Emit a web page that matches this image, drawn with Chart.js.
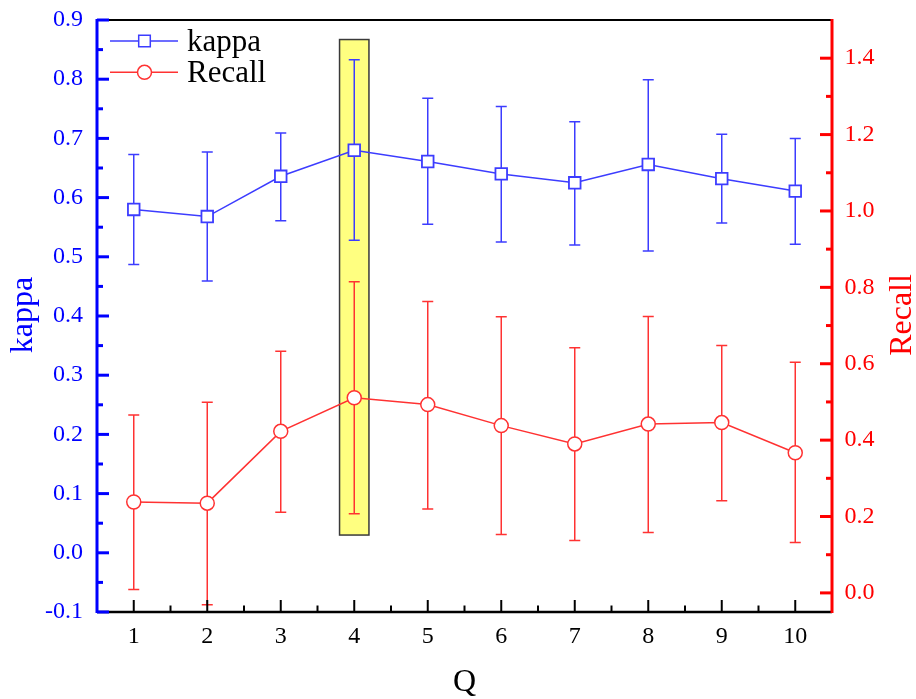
<!DOCTYPE html>
<html>
<head>
<meta charset="utf-8">
<script src="https://cdn.jsdelivr.net/npm/chart.js@4/dist/chart.umd.min.js"></script>
<style>
html, body { margin: 0; padding: 0; background: #fff; }
canvas { display: block; }
</style>
</head>
<body>
<canvas id="chart-kappa-recall" width="916" height="699"></canvas>
<script>
var qLabels = ['1', '2', '3', '4', '5', '6', '7', '8', '9', '10'];

var kappaMean  = [0.580, 0.568, 0.636, 0.680, 0.661, 0.640, 0.625, 0.656, 0.632, 0.611];
var kappaUpper = [0.673, 0.677, 0.709, 0.833, 0.768, 0.754, 0.728, 0.799, 0.707, 0.700];
var kappaLower = [0.487, 0.459, 0.561, 0.528, 0.555, 0.525, 0.520, 0.510, 0.557, 0.521];

var recallMean  = [0.238, 0.235, 0.423, 0.511, 0.493, 0.438, 0.390, 0.442, 0.446, 0.367];
var recallUpper = [0.466, 0.499, 0.633, 0.815, 0.763, 0.723, 0.642, 0.724, 0.648, 0.604];
var recallLower = [0.009, -0.031, 0.211, 0.207, 0.220, 0.153, 0.137, 0.158, 0.241, 0.132];

var kappaTicks  = [-0.1, 0.0, 0.1, 0.2, 0.3, 0.4, 0.5, 0.6, 0.7, 0.8, 0.9];
var recallTicks = [0.0, 0.2, 0.4, 0.6, 0.8, 1.0, 1.2, 1.4];

// highlighted Q column (yellow box), given in kappa units
var highlightQ = '4';
var highlightKappa = [0.03, 0.867];

var BLUE = '#0000ff', RED = '#ff0000';
var LINE_BLUE = '#3c3cff', LINE_RED = '#ff3232';
var FONT = '"Liberation Serif", "Times New Roman", serif';

function midpoints(arr) {
    var out = [];
    for (var i = 0; i < arr.length - 1; i++) out.push((arr[i] + arr[i + 1]) / 2);
    return out;
}

function noPad(s) {
    s.paddingTop = 0; s.paddingBottom = 0; s.paddingLeft = 0; s.paddingRight = 0;
}

var extras = {
    id: 'extras',
    beforeDatasetsDraw: function(chart) {
        var ctx = chart.ctx, x = chart.scales.x, yK = chart.scales.yKappa;
        var step = x.getPixelForValue(1) - x.getPixelForValue(0);
        var cx = x.getPixelForValue(qLabels.indexOf(highlightQ));
        var top = yK.getPixelForValue(highlightKappa[1]);
        var bottom = yK.getPixelForValue(highlightKappa[0]);
        ctx.save();
        ctx.fillStyle = '#ffff80';
        ctx.strokeStyle = '#3a3a3a';
        ctx.lineWidth = 1.5;
        ctx.fillRect(cx - 0.2 * step, top, 0.4 * step, bottom - top);
        ctx.strokeRect(cx - 0.2 * step, top, 0.4 * step, bottom - top);

        // error bars
        chart.data.datasets.forEach(function(ds) {
            var y = chart.scales[ds.yAxisID];
            ctx.strokeStyle = ds.borderColor;
            ctx.lineWidth = 1.5;
            ds.errLow.forEach(function(lo, i) {
                var px = x.getPixelForValue(i);
                var p1 = y.getPixelForValue(lo), p2 = y.getPixelForValue(ds.errHigh[i]);
                ctx.beginPath();
                ctx.moveTo(px, p1); ctx.lineTo(px, p2);
                ctx.moveTo(px - 5.5, p1); ctx.lineTo(px + 5.5, p1);
                ctx.moveTo(px - 5.5, p2); ctx.lineTo(px + 5.5, p2);
                ctx.stroke();
            });
        });
        ctx.restore();
    },
    afterDraw: function(chart) {
        var ctx = chart.ctx, a = chart.chartArea;
        var x = chart.scales.x, yK = chart.scales.yKappa, yR = chart.scales.yRecall;
        ctx.save();
        // top border and bottom axis
        ctx.strokeStyle = '#000';
        ctx.lineWidth = 2;
        ctx.beginPath(); ctx.moveTo(a.left, a.top); ctx.lineTo(a.right, a.top); ctx.stroke();
        ctx.lineWidth = 2.5;
        ctx.beginPath(); ctx.moveTo(a.left, a.bottom); ctx.lineTo(a.right, a.bottom); ctx.stroke();
        // x ticks
        ctx.lineWidth = 2;
        qLabels.forEach(function(l, i) {
            var px = x.getPixelForValue(i);
            ctx.beginPath(); ctx.moveTo(px, a.bottom); ctx.lineTo(px, a.bottom - 12); ctx.stroke();
            if (i < qLabels.length - 1) {
                var mx = (px + x.getPixelForValue(i + 1)) / 2;
                ctx.beginPath(); ctx.moveTo(mx, a.bottom); ctx.lineTo(mx, a.bottom - 6.5); ctx.stroke();
            }
        });
        // left axis
        ctx.strokeStyle = BLUE;
        ctx.lineWidth = 3;
        ctx.beginPath(); ctx.moveTo(a.left, a.top - 1); ctx.lineTo(a.left, a.bottom + 1); ctx.stroke();
        kappaTicks.forEach(function(v) {
            var py = yK.getPixelForValue(v);
            ctx.beginPath(); ctx.moveTo(a.left, py); ctx.lineTo(a.left + 12, py); ctx.stroke();
        });
        midpoints(kappaTicks).forEach(function(v) {
            var py = yK.getPixelForValue(v);
            ctx.beginPath(); ctx.moveTo(a.left, py); ctx.lineTo(a.left + 6, py); ctx.stroke();
        });
        // right axis
        ctx.strokeStyle = RED;
        ctx.beginPath(); ctx.moveTo(a.right, a.top - 1); ctx.lineTo(a.right, a.bottom + 1); ctx.stroke();
        recallTicks.forEach(function(v) {
            var py = yR.getPixelForValue(v);
            ctx.beginPath(); ctx.moveTo(a.right, py); ctx.lineTo(a.right - 12, py); ctx.stroke();
        });
        midpoints(recallTicks).forEach(function(v) {
            var py = yR.getPixelForValue(v);
            ctx.beginPath(); ctx.moveTo(a.right, py); ctx.lineTo(a.right - 6, py); ctx.stroke();
        });

        // axis titles
        var midY = (a.top + a.bottom) / 2;
        ctx.font = '32px ' + FONT;
        ctx.textAlign = 'center';
        ctx.textBaseline = 'alphabetic';
        ctx.fillStyle = BLUE;
        ctx.save(); ctx.translate(32, midY - 1); ctx.rotate(-Math.PI / 2); ctx.fillText('kappa', 0, 0); ctx.restore();
        ctx.fillStyle = RED;
        ctx.save(); ctx.translate(911, midY - 1); ctx.rotate(-Math.PI / 2); ctx.fillText('Recall', 0, 0); ctx.restore();
        ctx.fillStyle = '#000';
        ctx.fillText('Q', (a.left + a.right) / 2, 691);

        // legend
        ctx.font = '31px ' + FONT;
        chart.data.datasets.forEach(function(ds, i) {
            var ly = a.top + 21 + i * 31.3;
            ctx.strokeStyle = ds.borderColor;
            ctx.lineWidth = 1.5;
            ctx.beginPath(); ctx.moveTo(a.left + 13, ly); ctx.lineTo(a.left + 81, ly); ctx.stroke();
            ctx.fillStyle = '#fff';
            Chart.helpers.drawPoint(ctx, {
                pointStyle: ds.pointStyle, radius: ds.pointRadius, rotation: 0, borderWidth: 1.5
            }, a.left + 47.5, ly);
            ctx.fillStyle = '#000';
            ctx.textAlign = 'left';
            ctx.textBaseline = 'alphabetic';
            ctx.fillText(ds.label, a.left + 90, ly + 10);
        });
        ctx.restore();
    }
};

function chart() {
    var ctx = document.getElementById('chart-kappa-recall');
    new Chart(ctx, {
        type: 'line',
        data: {
            labels: qLabels,
            datasets: [{
                label: 'kappa',
                data: kappaMean,
                errLow: kappaLower,
                errHigh: kappaUpper,
                yAxisID: 'yKappa',
                borderColor: LINE_BLUE,
                backgroundColor: '#fff',
                borderWidth: 1.5,
                pointStyle: 'rect',
                pointRadius: 8.2,
                pointBorderWidth: 1.8,
                pointBackgroundColor: '#fff',
                tension: 0
            }, {
                label: 'Recall',
                data: recallMean,
                errLow: recallLower,
                errHigh: recallUpper,
                yAxisID: 'yRecall',
                borderColor: LINE_RED,
                backgroundColor: '#fff',
                borderWidth: 1.5,
                pointStyle: 'circle',
                pointRadius: 7,
                pointBorderWidth: 1.5,
                pointBackgroundColor: '#fff',
                tension: 0
            }]
        },
        options: {
            responsive: false,
            animation: false,
            events: [],
            layout: { padding: { top: 20, left: 0, right: 0, bottom: 0 } },
            plugins: { legend: { display: false }, tooltip: { enabled: false } },
            scales: {
                x: {
                    type: 'category',
                    offset: true,
                    grid: { display: false, drawTicks: false },
                    border: { display: false },
                    ticks: { color: '#000', font: { family: FONT, size: 24 }, padding: 10, maxRotation: 0, autoSkip: false },
                    afterFit: function(s) { s.height = 87; noPad(s); }
                },
                yKappa: {
                    position: 'left',
                    min: -0.1,
                    max: 0.9,
                    grid: { display: false, drawTicks: false },
                    border: { display: false },
                    afterBuildTicks: function(s) { s.ticks = kappaTicks.map(function(v) { return { value: v }; }); },
                    ticks: {
                        color: BLUE, font: { family: FONT, size: 24 }, padding: 14,
                        callback: function(v) { return v.toFixed(1); }
                    },
                    afterFit: function(s) { s.width = 97; noPad(s); }
                },
                yRecall: {
                    position: 'right',
                    min: -0.05,
                    max: 1.5,
                    grid: { display: false, drawTicks: false },
                    border: { display: false },
                    afterBuildTicks: function(s) { s.ticks = recallTicks.map(function(v) { return { value: v }; }); },
                    ticks: {
                        color: RED, font: { family: FONT, size: 24 }, padding: 12.5,
                        callback: function(v) { return v.toFixed(1); }
                    },
                    afterFit: function(s) { s.width = 84; noPad(s); }
                }
            }
        },
        plugins: [extras]
    });
}

chart();
</script>
</body>
</html>
